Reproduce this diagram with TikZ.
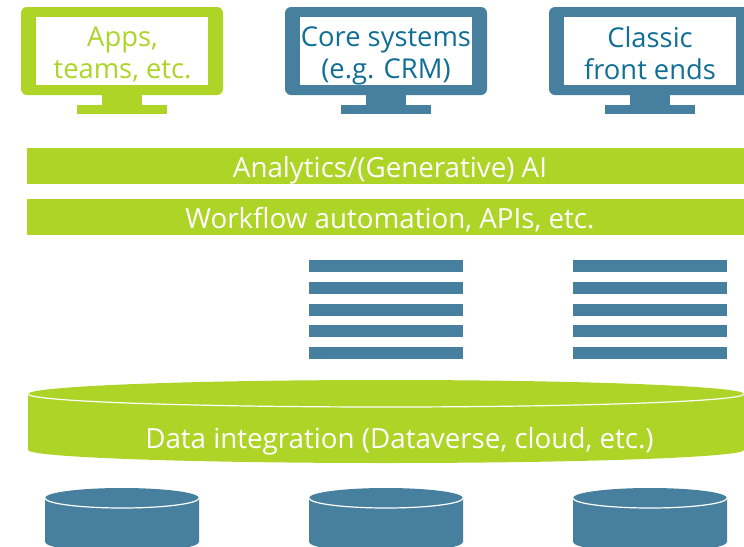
\documentclass[tikz,border=0pt]{standalone}
\usepackage{fontspec}
\setmainfont{Open Sans}
\definecolor{lime}{HTML}{ADD427}
\definecolor{steel}{HTML}{47809F}
\definecolor{deep}{HTML}{116E94}
\newcommand{\monitor}[2]{%
  \begin{scope}[shift={(#1,0)}]
    \fill[#2,rounded corners=4.5pt] (21,7) rectangle (223,95);
    \fill[white] (36,17) rectangle (208,85);
    \fill[#2] (102,94) rectangle (142,105);
    \fill[#2] (77,105) rectangle (167,114);
  \end{scope}}
\newcommand{\drum}[1]{%
  \begin{scope}[shift={(#1,0)}]
    \fill[steel] (45,498) -- (45,542) arc[start angle=180,end angle=0,x radius=77,y radius=10] -- (199,498) arc[start angle=0,end angle=-180,x radius=77,y radius=10] -- cycle;
    \draw[white,line width=0.9pt] (45,498) arc[start angle=180,end angle=0,x radius=77,y radius=10];
  \end{scope}}
\newcommand{\stack}[1]{%
  \begin{scope}[shift={(#1,0)}]
    \foreach \y in {260,282,304,325,347}
      \fill[steel] (309,\y) rectangle (463,\y+12);
  \end{scope}}
\newcommand{\lh}{\vphantom{(Ag}}
\tikzset{
  captext/.style={text=white,font=\fontsize{20.8}{24}\selectfont,inner sep=0pt,align=center},
  montext/.style={font=\fontsize{20.5}{24}\selectfont,inner sep=0pt,align=center}
}
\begin{document}
\begin{tikzpicture}[x=0.75pt,y=-0.75pt]
\useasboundingbox (0,0) rectangle (744,547);
\clip (0,0) rectangle (744,547);
\monitor{0}{lime}
\monitor{264}{steel}
\monitor{528}{steel}
\node[montext,text=lime] (apps) at (122.5,56) {\lh Apps,\\\lh teams, etc.};
\node[montext,text=deep] (core) at (386,56) {\lh Core systems\\\lh (e.g. CRM)};
\node[montext,text=deep] (classic) at (650,56) {\lh Classic\\\lh front ends};
\fill[lime] (27,148) rectangle (744,184);
\node[captext] (ai) at (390,170) {\lh Analytics/(Generative) AI};
\fill[lime] (27,199) rectangle (744,235);
\node[captext] (wf) at (390,221) {\lh Workflow automation, APIs, etc.};
\stack{0}
\stack{264}
\fill[lime] (28,394) -- (28,450) arc[start angle=180,end angle=0,x radius=358,y radius=13] -- (744,394) arc[start angle=0,end angle=-180,x radius=358,y radius=14] -- cycle;
\draw[white,line width=0.9pt] (28,394) arc[start angle=180,end angle=0,x radius=358,y radius=13];
\node[captext] (data) at (399.5,441) {\lh Data integration (Dataverse, cloud, etc.)};
\drum{0}
\drum{264}
\drum{528}
\end{tikzpicture}
\end{document}
